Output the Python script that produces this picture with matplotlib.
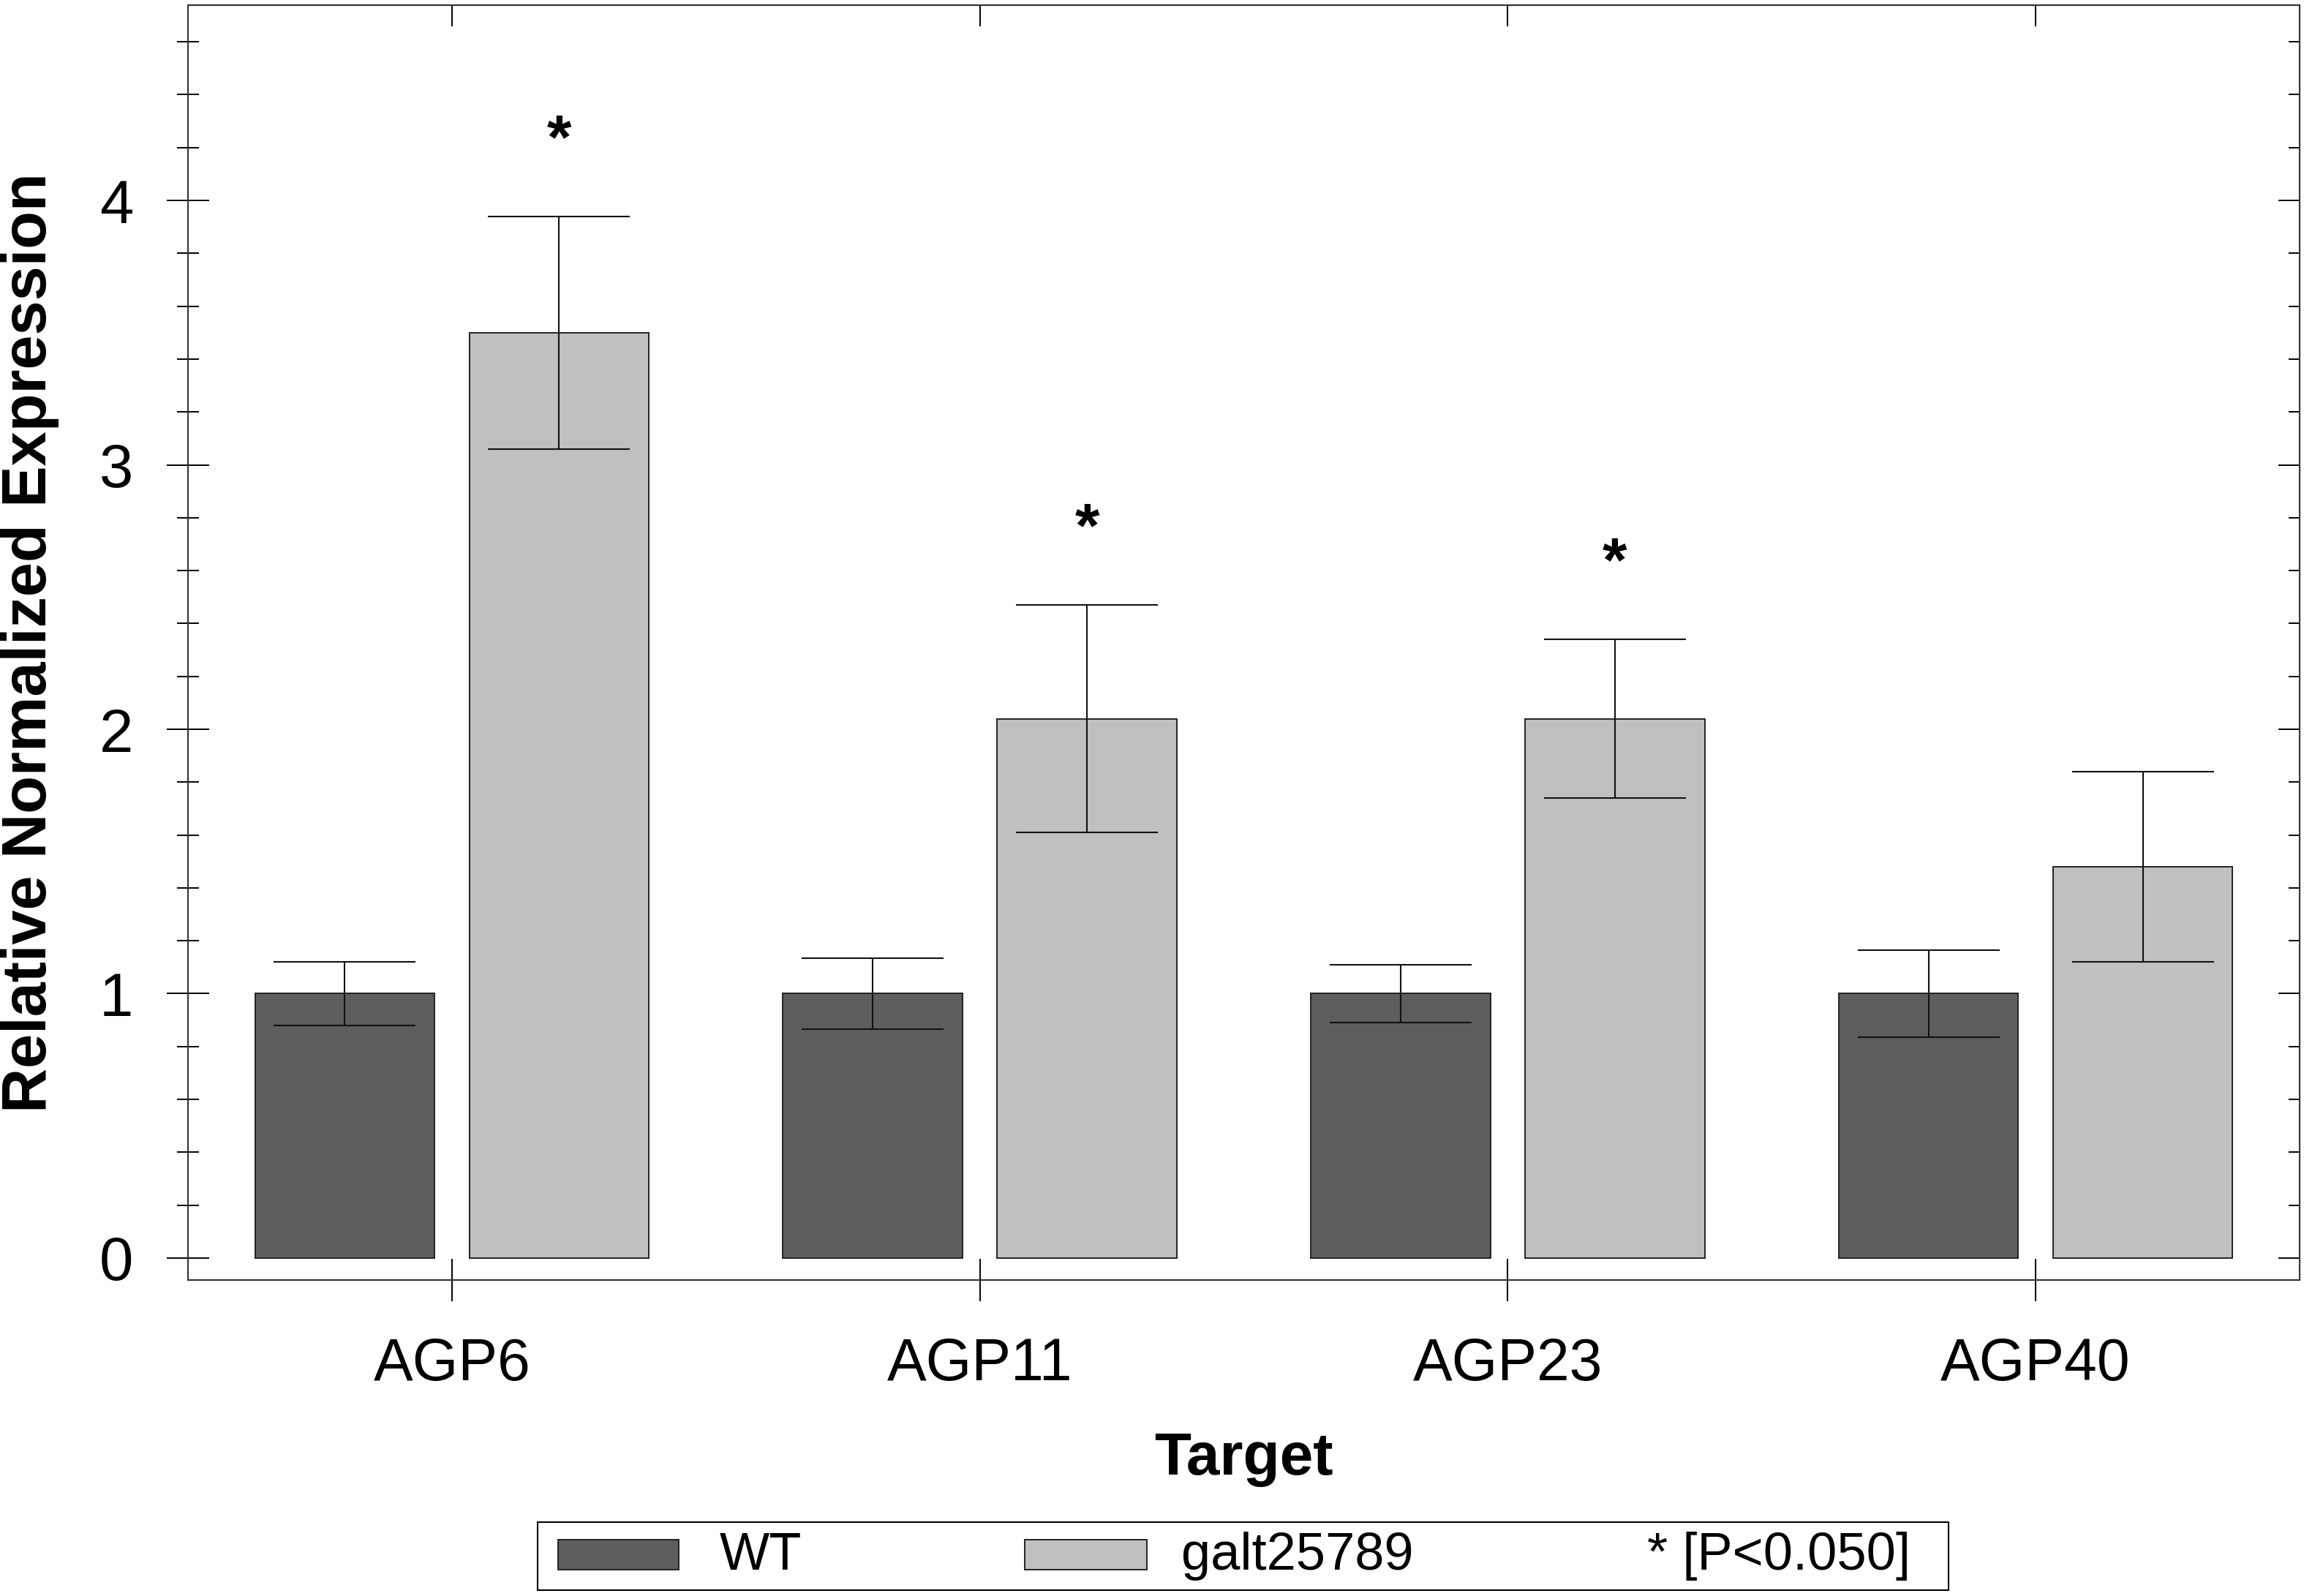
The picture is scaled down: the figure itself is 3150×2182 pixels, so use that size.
import matplotlib
matplotlib.use("Agg")
import matplotlib.pyplot as plt
from matplotlib.patches import Rectangle
from matplotlib.ticker import MultipleLocator
import numpy as np

################################################################################
# data
targets = ["AGP6", "AGP11", "AGP23", "AGP40"]
wt_mean = [1.0, 1.0, 1.0, 1.0]
wt_err = [0.12, 0.135, 0.11, 0.165]
galt_mean = [3.50, 2.04, 2.04, 1.48]
galt_err = [0.44, 0.43, 0.30, 0.36]
galt_signif = [True, True, True, False]
series_names = ["WT", "galt25789"]
signif_note = "* [P<0.050]"

wt_color = "#5e5e5e"
galt_color = "#c0c0c0"
################################################################################

plt.rcParams["font.family"] = ["Liberation Sans", "DejaVu Sans"]

fig = plt.figure(figsize=(31.5, 21.82), dpi=100)
ax = fig.add_axes([0.0816, 0.198, 0.9165, 0.799])

x = np.arange(len(targets))
off = 0.203
w = 0.34

ax.bar(x - off, wt_mean, w, color=wt_color, edgecolor="#222222", linewidth=1.4, zorder=2)
ax.bar(x + off, galt_mean, w, color=galt_color, edgecolor="#222222", linewidth=1.4, zorder=2)
ax.errorbar(x - off, wt_mean, yerr=wt_err, fmt="none", ecolor="#111111",
            elinewidth=1.5, capsize=70, capthick=1.5, zorder=3)
ax.errorbar(x + off, galt_mean, yerr=galt_err, fmt="none", ecolor="#111111",
            elinewidth=1.5, capsize=70, capthick=1.5, zorder=3)

for i in range(len(targets)):
    if galt_signif[i]:
        ax.text(x[i] + off, galt_mean[i] + galt_err[i] + 0.22, "*", ha="center",
                va="baseline", fontsize=62, fontweight="bold")

ax.set_xlim(-0.5, 3.5)
ax.set_ylim(-0.083, 4.74)
ax.set_xticks(x)
ax.set_xticklabels(targets, fontsize=58)
ax.set_yticks([0, 1, 2, 3, 4])
ax.yaxis.set_minor_locator(MultipleLocator(0.2))
ax.tick_params(axis="y", which="major", direction="inout", length=42, width=1.4,
               labelsize=60, pad=33)
ax.tick_params(axis="y", which="minor", direction="inout", length=21, width=1.4)
ax.tick_params(axis="x", which="major", direction="inout", length=42, width=1.4, pad=35)
for s in ax.spines.values():
    s.set_linewidth(1.5)
    s.set_color("#333333")

# inward ticks on top and right
top = ax.secondary_xaxis("top")
top.set_xticks(x)
top.set_xticklabels([])
top.tick_params(direction="in", length=21, width=1.4)
right = ax.secondary_yaxis("right")
right.set_yticks([0, 1, 2, 3, 4])
right.set_yticklabels([])
right.yaxis.set_minor_locator(MultipleLocator(0.2))
right.tick_params(which="major", direction="in", length=21, width=1.4)
right.tick_params(which="minor", direction="in", length=11, width=1.4)

ax.set_ylabel("Relative Normalized Expression", fontsize=61, fontweight="bold")
ax.yaxis.set_label_coords(-0.061, 0.5)
ax.set_xlabel("Target", fontsize=59, fontweight="bold")
ax.xaxis.set_label_coords(0.5, -0.119)

# legend box
lg = fig.add_axes([0.2334, 0.0037, 0.6123, 0.0426])
lg.set_xlim(0, 1)
lg.set_ylim(0, 1)
lg.set_xticks([])
lg.set_yticks([])
for s in lg.spines.values():
    s.set_linewidth(1.5)
lg.add_patch(Rectangle((0.0146, 0.30), 0.0854, 0.44, facecolor=wt_color, edgecolor="#222222", linewidth=1.4))
lg.text(0.129, 0.5, series_names[0], fontsize=52, va="center", ha="left")
lg.add_patch(Rectangle((0.345, 0.30), 0.087, 0.44, facecolor=galt_color, edgecolor="#222222", linewidth=1.4))
lg.text(0.456, 0.5, series_names[1], fontsize=52, va="center", ha="left")
lg.text(0.973, 0.5, signif_note, fontsize=52, va="center", ha="right")

fig.savefig("out.png", dpi=100)
